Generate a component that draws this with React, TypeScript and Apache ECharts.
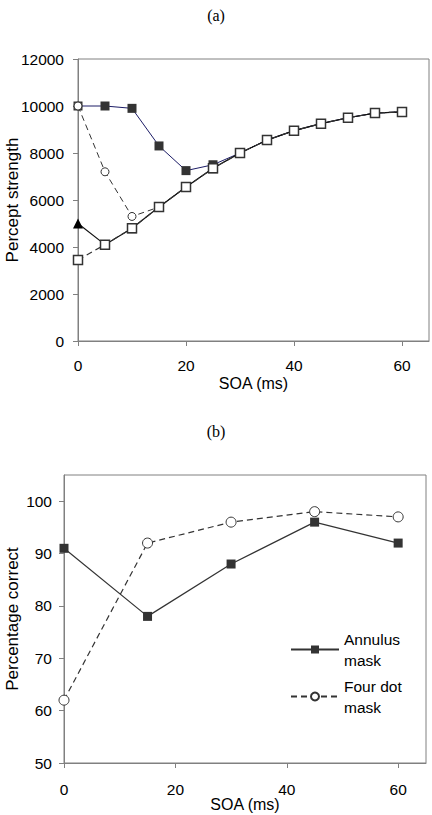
import React, { useEffect, useRef } from 'react';
import * as echarts from 'echarts';

// Panel (a)
const soaA = [0, 5, 10, 15, 20, 25, 30, 35, 40, 45, 50, 55, 60];
const filledSquaresA = [10000, 10000, 9900, 8300, 7250, 7500, 8000, 8550, 8950, 9250, 9500, 9700, 9750];
const openCirclesA = [10000, 7200, 5300, 5700, 6550, 7350, 8000, 8550, 8950, 9250, 9500, 9700, 9750];
const trianglesA = [5000, 4100, 4800, 5700, 6550, 7350, 8000, 8550, 8950, 9250, 9500, 9700, 9750];
const openSquaresA = [3450, 4100, 4800, 5700, 6550, 7350, 8000, 8550, 8950, 9250, 9500, 9700, 9750];
const xTicksA = [0, 20, 40, 60];

// Panel (b)
const soaB = [0, 15, 30, 45, 60];
const annulusB = [91, 78, 88, 96, 92];
const fourDotB = [62, 92, 96, 98, 97];
const xTicksB = [0, 20, 40, 60];
const yTicksB = [50, 60, 70, 80, 90, 100];

const seriesNamesB = ['Annulus mask', 'Four dot mask'];

const FONT = 'Liberation Sans, Arial, sans-serif';
const SERIF = 'Liberation Serif, Times New Roman, serif';
const AXIS_GRAY = '#808080';
const DARK = '#333333';
const TICK_FS = 15.5;

const pairs = (xs: number[], ys: number[]) => xs.map((x, i) => [x, ys[i]]);

const axisCommon = {
  axisLine: { lineStyle: { color: AXIS_GRAY, width: 1 } },
  axisTick: { show: true, length: 5, lineStyle: { color: AXIS_GRAY } },
  splitLine: { show: false },
  nameMoveOverlap: false,
};

const labelStyle = { fontFamily: FONT, fontSize: TICK_FS, color: '#000' };

export default function App() {
  const ref = useRef<HTMLDivElement>(null);
  useEffect(() => {
    const chart = echarts.init(ref.current!, null, { renderer: 'svg' });
    const option: any = {
      animation: false,
      backgroundColor: '#ffffff',
      title: [
        {
          text: '(a)',
          left: 'center',
          top: 2,
          textStyle: { fontFamily: SERIF, fontSize: 16, fontWeight: 'normal', color: '#000' },
        },
        {
          text: '(b)',
          left: 'center',
          top: 418,
          textStyle: { fontFamily: SERIF, fontSize: 16, fontWeight: 'normal', color: '#000' },
        },
      ],
      grid: [
        {
          left: 78, top: 59, width: 351, height: 282,
          containLabel: false, outerBoundsMode: 'none',
          show: true, borderColor: AXIS_GRAY, borderWidth: 1, backgroundColor: 'transparent',
        },
        {
          left: 64, top: 475, width: 362, height: 288,
          containLabel: false, outerBoundsMode: 'none',
          show: true, borderColor: AXIS_GRAY, borderWidth: 1, backgroundColor: 'transparent',
        },
      ],
      xAxis: [
        {
          gridIndex: 0,
          type: 'value',
          min: 0,
          max: 65,
          interval: 20,
          ...axisCommon,
          axisTick: { ...axisCommon.axisTick, customValues: xTicksA },
          axisLabel: { ...labelStyle, customValues: xTicksA, margin: 16 },
          name: 'SOA (ms)',
          nameLocation: 'middle',
          nameGap: 34,
          nameTextStyle: { fontFamily: FONT, fontSize: 16, color: '#000' },
        },
        {
          gridIndex: 1,
          type: 'value',
          min: 0,
          max: 65,
          interval: 20,
          ...axisCommon,
          axisTick: { ...axisCommon.axisTick, customValues: xTicksB },
          axisLabel: { ...labelStyle, customValues: xTicksB, margin: 18 },
          name: 'SOA (ms)',
          nameLocation: 'middle',
          nameGap: 33,
          nameTextStyle: { fontFamily: FONT, fontSize: 16, color: '#000' },
        },
      ],
      yAxis: [
        {
          gridIndex: 0,
          type: 'value',
          min: 0,
          max: 12000,
          interval: 2000,
          ...axisCommon,
          axisLabel: { ...labelStyle, margin: 14, formatter: (v: number) => String(v) },
          name: 'Percept strength',
          nameLocation: 'middle',
          nameGap: 57,
          nameTextStyle: { fontFamily: FONT, fontSize: 17, color: '#000' },
        },
        {
          gridIndex: 1,
          type: 'value',
          min: 50,
          max: 105,
          interval: 10,
          ...axisCommon,
          axisTick: { ...axisCommon.axisTick, customValues: yTicksB },
          axisLabel: { ...labelStyle, customValues: yTicksB, margin: 12, formatter: (v: number) => String(v) },
          name: 'Percentage correct',
          nameLocation: 'middle',
          nameGap: 43,
          nameTextStyle: { fontFamily: FONT, fontSize: 17, color: '#000' },
        },
      ],
      legend: [
        {
          data: [seriesNamesB[0]],
          left: 285,
          top: 613,
          itemWidth: 48,
          itemHeight: 10,
          selectedMode: false,
          formatter: (n: string) => n.replace(' mask', '\nmask'),
          textStyle: { fontFamily: FONT, fontSize: 15.5, lineHeight: 21, color: '#000', padding: [21, 0, 0, 0] },
        },
        {
          data: [seriesNamesB[1]],
          left: 285,
          top: 660,
          itemWidth: 48,
          itemHeight: 10,
          selectedMode: false,
          formatter: (n: string) => n.replace(' mask', '\nmask'),
          textStyle: { fontFamily: FONT, fontSize: 15.5, lineHeight: 21, color: '#000', padding: [21, 0, 0, 0] },
        },
      ],
      series: [
        {
          name: 'Filled squares',
          type: 'line',
          xAxisIndex: 0,
          yAxisIndex: 0,
          data: pairs(soaA, filledSquaresA),
          symbol: 'rect',
          symbolSize: 9,
          clip: false,
          lineStyle: { color: '#1c1c66', width: 1 },
          itemStyle: { color: DARK, borderColor: DARK, borderWidth: 0 },
        },
        {
          name: 'Open circles',
          type: 'line',
          xAxisIndex: 0,
          yAxisIndex: 0,
          data: pairs(soaA, openCirclesA),
          symbol: 'circle',
          symbolSize: 8,
          clip: false,
          lineStyle: { color: DARK, width: 1, type: [6, 4] },
          itemStyle: { color: '#fff', borderColor: DARK, borderWidth: 1 },
        },
        {
          name: 'Triangles',
          type: 'line',
          xAxisIndex: 0,
          yAxisIndex: 0,
          data: pairs(soaA, trianglesA),
          symbol: 'triangle',
          symbolSize: 10,
          clip: false,
          lineStyle: { color: '#111', width: 1.2 },
          itemStyle: { color: '#000', borderWidth: 0 },
        },
        {
          name: 'Open squares',
          type: 'line',
          xAxisIndex: 0,
          yAxisIndex: 0,
          data: pairs(soaA, openSquaresA),
          symbol: 'rect',
          symbolSize: 9,
          clip: false,
          lineStyle: { color: DARK, width: 1.2, type: [6, 4] },
          itemStyle: { color: '#fff', borderColor: DARK, borderWidth: 1.5 },
        },
        {
          name: seriesNamesB[1],
          type: 'line',
          xAxisIndex: 1,
          yAxisIndex: 1,
          data: pairs(soaB, fourDotB),
          symbol: 'circle',
          symbolSize: 10,
          clip: false,
          lineStyle: { color: DARK, width: 1.2, type: [6, 4] },
          itemStyle: { color: '#fff', borderColor: DARK, borderWidth: 1 },
        },
        {
          name: seriesNamesB[0],
          type: 'line',
          xAxisIndex: 1,
          yAxisIndex: 1,
          data: pairs(soaB, annulusB),
          symbol: 'rect',
          symbolSize: 9,
          clip: false,
          lineStyle: { color: DARK, width: 1.2 },
          itemStyle: { color: DARK, borderWidth: 0 },
        },
      ],
    };
    chart.setOption(option);
    return () => chart.dispose();
  }, []);
  return (
    <div
      ref={ref}
      style={{ position: 'fixed', left: 0, top: 0, width: 432, height: 815, background: '#fff' }}
    />
  );
}
